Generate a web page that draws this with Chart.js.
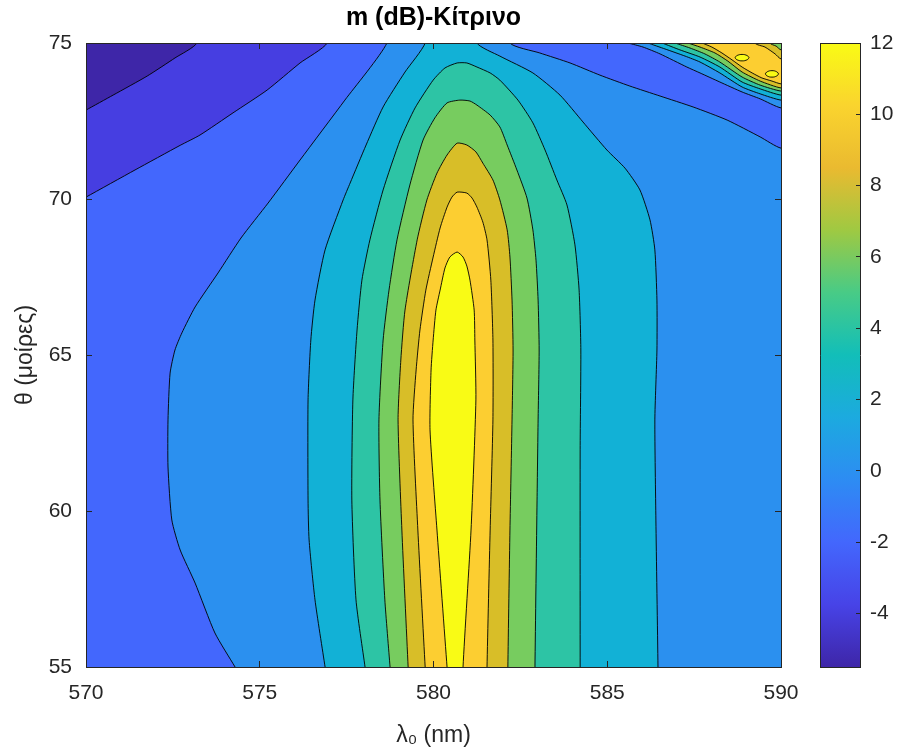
<!DOCTYPE html>
<html>
<head>
<meta charset="utf-8">
<script src="https://cdn.jsdelivr.net/npm/chart.js@4.4.1/dist/chart.umd.min.js"></script>
<style>
  body { margin: 0; background: #fff; }
  #wrap { position: relative; width: 898px; height: 756px; }
  canvas { position: absolute; top: 0; }
</style>
</head>
<body>
<div id="wrap">
  <canvas id="map" width="898" height="756" style="left:0"></canvas>
  <canvas id="cbar" width="108" height="756" style="left:790px"></canvas>
</div>
<script>
// axis limits and levels
const lambdaLimits = [570, 590];
const thetaLimits = [55, 75];
const mLimits = [-5.5, 12];
const contourLevels = [-4, -2, 0, 2, 4, 6, 8, 10, 12];

// regions, [lambda (nm), theta (deg)]; points past the limits only close the shapes
const underMinus4 = [[570,72.85],[570.78,73.33],[571.76,73.94],[572.56,74.52],[573.19,75],[573.19,76],[569,76],[569,72.85]];
const underMinus2 = [[570,70.06],[571.41,70.93],[572.71,71.72],[573.28,72.05],[574.23,72.76],[575.21,73.49],[576.16,74.36],[576.94,75],[576.94,76],[569,76],[569,70.06]];
const over0 = [[574.29,55],[573.71,56.09],[573.14,57.69],[572.71,58.75],[572.47,59.71],[572.36,61.41],[572.36,62.92],[572.42,64.42],[572.56,65.16],[572.76,65.71],[573.14,66.54],[573.80,67.63],[574.46,68.75],[575.24,69.87],[576.16,71.25],[577.45,73.17],[578.66,75],[578.66,76],[582.20,76],[582.20,75],[583.06,74.68],[583.93,74.36],[584.79,73.97],[585.65,73.62],[586.52,73.30],[587.47,72.95],[588.45,72.53],[589.40,71.99],[590,71.63],[591,71.63],[591,54],[574.29,54]];
const over0Corner = [[585.60,75],[586.03,74.87],[586.52,74.65],[587.29,74.23],[587.67,74.04],[588.24,73.75],[588.88,73.43],[589.40,73.21],[590,72.92],[591,72.92],[591,76],[585.60,76]];
const over2 = [[576.88,55],[576.59,57.15],[576.42,59.07],[576.39,60.35],[576.39,63.56],[576.47,65.48],[576.59,66.76],[576.88,68.37],[577.40,69.97],[577.60,70.51],[578.06,71.73],[578.55,72.95],[579.18,74.07],[579.76,75],[579.76,76],[581.25,76],[581.25,75],[581.91,74.58],[582.86,74.04],[583.64,73.33],[584.30,72.47],[584.99,71.57],[585.51,70.99],[585.94,70.29],[586.23,69.33],[586.37,68.37],[586.43,66.76],[586.43,65.16],[586.37,62.92],[586.40,59.71],[586.46,55],[586.46,54],[576.88,54]];
const over2Corner = [[586.17,75],[586.66,74.81],[587.24,74.58],[587.67,74.39],[588.24,74.04],[588.88,73.59],[589.40,73.37],[590,73.17],[591,73.17],[591,76],[586.17,76]];
const over4 = [[578.03,55],[577.77,57.15],[577.65,60.35],[577.68,63.56],[577.80,65.80],[577.94,67.40],[578.17,68.69],[578.55,70.29],[579.04,71.89],[579.47,72.92],[579.99,73.81],[580.33,74.20],[580.68,74.36],[580.96,74.36],[581.25,74.23],[581.63,74.04],[581.91,73.81],[582.43,73.17],[582.86,72.44],[583.21,71.57],[583.55,70.61],[583.84,69.81],[584.07,68.53],[584.19,67.08],[584.24,65.16],[584.22,61.96],[584.22,55],[584.22,54],[578.03,54]];
const over4Corner = [[586.58,75],[587.09,74.78],[587.67,74.55],[588.24,74.23],[588.88,73.75],[589.40,73.53],[590,73.33],[591,73.33],[591,76],[586.58,76]];
const over6 = [[578.75,55],[578.60,57.15],[578.46,60.35],[578.43,62.92],[578.55,65.48],[578.72,67.08],[578.95,68.69],[579.32,70.45],[579.70,71.89],[580.04,72.60],[580.39,73.08],[580.76,73.17],[581.05,73.14],[581.25,73.01],[581.63,72.69],[581.91,72.31],[582.12,71.73],[582.40,70.93],[582.69,70.03],[582.86,69.01],[582.95,68.04],[583.01,66.76],[583.04,65.16],[583.01,62.92],[582.98,60.35],[582.92,55],[582.92,54],[578.75,54]];
const over6Corner = [[586.95,75],[587.38,74.84],[587.81,74.65],[588.24,74.39],[588.88,73.91],[589.40,73.65],[590,73.46],[591,73.46],[591,76],[586.95,76]];
const over8 = [[579.27,55],[579.09,59.39],[578.98,62.92],[579.06,64.84],[579.18,66.44],[579.53,68.69],[579.81,69.97],[580.10,70.83],[580.39,71.41],[580.68,71.79],[580.96,71.73],[581.22,71.51],[581.42,71.15],[581.71,70.61],[581.91,69.97],[582.12,69.01],[582.20,68.14],[582.26,66.76],[582.29,65.16],[582.26,62.92],[582.20,59.39],[582.14,55],[582.14,54],[579.27,54]];
const over8Corner = [[587.32,75],[587.67,74.87],[588.10,74.68],[588.47,74.42],[588.88,74.07],[589.40,73.78],[590,73.56],[591,73.56],[591,74.78],[590,74.78],[589.86,74.90],[589.68,75],[589.68,76],[587.32,76]];
const over10 = [[579.76,55],[579.55,59.39],[579.41,62.92],[579.50,64.52],[579.61,65.80],[579.78,67.08],[579.99,68.14],[580.19,69.07],[580.39,69.74],[580.53,70.06],[580.68,70.22],[580.96,70.19],[581.11,70.03],[581.25,69.74],[581.42,69.26],[581.54,68.69],[581.65,67.40],[581.71,65.48],[581.71,62.92],[581.63,59.39],[581.54,55],[581.54,54],[579.76,54]];
const over10Corner = [[587.73,75],[588.01,74.87],[588.30,74.68],[588.59,74.46],[588.88,74.23],[589.17,74.04],[589.45,73.88],[589.74,73.78],[590,73.69],[591,73.69],[591,74.49],[590,74.49],[589.83,74.65],[589.54,74.87],[589.25,75],[589.25,76],[587.73,76]];
const over12 = [[580.39,55],[580.10,59.39],[579.90,62.60],[579.93,64.52],[579.99,65.48],[580.07,66.44],[580.19,67.08],[580.33,67.79],[580.47,68.14],[580.68,68.30],[580.85,68.14],[580.96,67.85],[581.05,67.40],[581.17,66.44],[581.19,65.48],[581.22,63.56],[581.08,59.39],[580.85,55],[580.85,54],[580.39,54]];
const over12SpotA = [[589.08,74.53],[589.04,74.59],[588.94,74.63],[588.82,74.63],[588.72,74.59],[588.68,74.53],[588.72,74.47],[588.82,74.43],[588.94,74.43],[589.04,74.47],[589.08,74.53]];
const over12SpotB = [[589.93,74.01],[589.89,74.07],[589.80,74.11],[589.68,74.11],[589.59,74.07],[589.55,74.01],[589.59,73.95],[589.68,73.91],[589.80,73.91],[589.89,73.95],[589.93,74.01]];

// parula, sampled
const parula = ['rgb(62,38,168)','rgb(71,67,231)','rgb(67,103,253)','rgb(45,140,243)','rgb(28,170,223)',
  'rgb(18,190,185)','rgb(72,203,134)','rgb(159,201,66)','rgb(234,186,48)','rgb(250,212,46)','rgb(249,251,21)'];
// fill of each band: below -4, -4..-2, ... , above 12
const bandColors = ['rgb(62,38,168)','rgb(70,62,225)','rgb(67,103,253)','rgb(43,144,239)','rgb(18,177,214)',
  'rgb(45,196,165)','rgb(119,204,95)','rgb(216,190,40)','rgb(252,206,49)','rgb(249,251,21)'];

const ink = '#262626';
const family = "'Liberation Sans', Arial, Helvetica, sans-serif";
const tickFont = { family, size: 21 };
const labelFont = { family, size: 23 };
Chart.defaults.font.family = family;
Chart.defaults.color = ink;

const domain = [
  [lambdaLimits[0], thetaLimits[0]], [lambdaLimits[1], thetaLimits[0]],
  [lambdaLimits[1], thetaLimits[1]], [lambdaLimits[0], thetaLimits[1]]
];

// painter order: lowest band first
const layers = [
  { pts: domain, band: 2, edge: false },
  { pts: underMinus2, band: 1 },
  { pts: underMinus4, band: 0 },
  { pts: over0, band: 3 }, { pts: over0Corner, band: 3 },
  { pts: over2, band: 4 }, { pts: over2Corner, band: 4 },
  { pts: over4, band: 5 }, { pts: over4Corner, band: 5 },
  { pts: over6, band: 6 }, { pts: over6Corner, band: 6 },
  { pts: over8, band: 7 }, { pts: over8Corner, band: 7 },
  { pts: over10, band: 8 }, { pts: over10Corner, band: 8 },
  { pts: over12, band: 9 }, { pts: over12SpotA, band: 9 }, { pts: over12SpotB, band: 9 }
];

// a little tension also keeps chart.js off its fast path, which merges points sharing a pixel column
const datasets = layers.map((l, i) => ({
  data: l.pts.map(p => ({ x: p[0], y: p[1] })),
  fill: 'shape',
  backgroundColor: bandColors[l.band],
  borderColor: l.edge === false ? 'rgba(0,0,0,0)' : 'rgba(0,0,0,0.9)',
  borderWidth: l.edge === false ? 0 : 1,
  pointRadius: 0,
  tension: 0.2,
  capBezierPoints: false,
  clip: 0,
  order: layers.length - i
}));

const tickGrid = { drawOnChartArea: false, tickLength: -6, color: ink, z: 1 };
const edge = { color: ink, width: 1, z: 1 };

new Chart(document.getElementById('map'), {
  type: 'line',
  data: { datasets },
  options: {
    responsive: false,
    animation: false,
    events: [],
    layout: { padding: { left: 0, right: 117, top: 0, bottom: 0 } },
    plugins: {
      legend: { display: false },
      tooltip: { enabled: false },
      title: {
        display: true, text: 'm (dB)-Κίτρινο', fullSize: false, color: '#000',
        font: { family, size: 25, weight: 'bold', lineHeight: 1.2 },
        padding: { top: 3, bottom: 10 }
      }
    },
    scales: {
      x: {
        type: 'linear', position: 'bottom', min: lambdaLimits[0], max: lambdaLimits[1],
        afterFit: s => { s.height = 89; },
        ticks: { stepSize: 5, padding: 20, color: ink, font: tickFont },
        grid: tickGrid, border: edge,
        title: { display: true, text: 'λ₀ (nm)', color: ink, font: labelFont, padding: { top: 0, bottom: 7 } }
      },
      xTop: {
        type: 'linear', position: 'top', min: lambdaLimits[0], max: lambdaLimits[1],
        afterFit: s => { s.height = 0; },
        ticks: { stepSize: 5, display: false },
        grid: tickGrid, border: edge
      },
      y: {
        type: 'linear', position: 'left', min: thetaLimits[0], max: thetaLimits[1],
        afterFit: s => { s.width = 86; },
        ticks: { stepSize: 5, padding: 20, color: ink, font: tickFont },
        grid: tickGrid, border: edge,
        title: { display: true, text: 'θ (μοίρες)', color: ink, font: labelFont, padding: { top: 12, bottom: 0 } }
      },
      yRight: {
        type: 'linear', position: 'right', min: thetaLimits[0], max: thetaLimits[1],
        afterFit: s => { s.width = 0; },
        ticks: { stepSize: 5, display: false },
        grid: tickGrid, border: edge
      }
    }
  }
});

// colour bar
function barGradient(c) {
  const { chart } = c;
  if (!chart.chartArea) return parula[0];
  const y = chart.scales.y;
  const g = chart.ctx.createLinearGradient(0, y.getPixelForValue(mLimits[0]), 0, y.getPixelForValue(mLimits[1]));
  parula.forEach((col, i) => g.addColorStop(i / (parula.length - 1), col));
  return g;
}

new Chart(document.getElementById('cbar'), {
  type: 'bar',
  data: {
    labels: ['m'],
    datasets: [{ data: [mLimits], backgroundColor: barGradient, borderWidth: 0, barPercentage: 1, categoryPercentage: 1 }]
  },
  options: {
    responsive: false,
    animation: false,
    events: [],
    plugins: { legend: { display: false }, tooltip: { enabled: false } },
    scales: {
      x: {
        position: 'bottom', afterFit: s => { s.height = 89; },
        ticks: { display: false }, grid: { display: false }, border: edge
      },
      xTop: {
        type: 'category', position: 'top', afterFit: s => { s.height = 43; },
        ticks: { display: false }, grid: { display: false }, border: edge
      },
      y: {
        type: 'linear', position: 'right', min: mLimits[0], max: mLimits[1],
        afterFit: s => { s.width = 38; },
        ticks: { stepSize: 2, includeBounds: false, padding: 14, color: ink, font: tickFont },
        grid: { drawOnChartArea: false, tickLength: -4, color: ink, z: 1 }, border: edge
      },
      yLeft: {
        type: 'linear', position: 'left', min: mLimits[0], max: mLimits[1],
        afterFit: s => { s.width = 30; },
        ticks: { display: false }, grid: { display: false }, border: edge
      }
    }
  }
});
</script>
</body>
</html>
